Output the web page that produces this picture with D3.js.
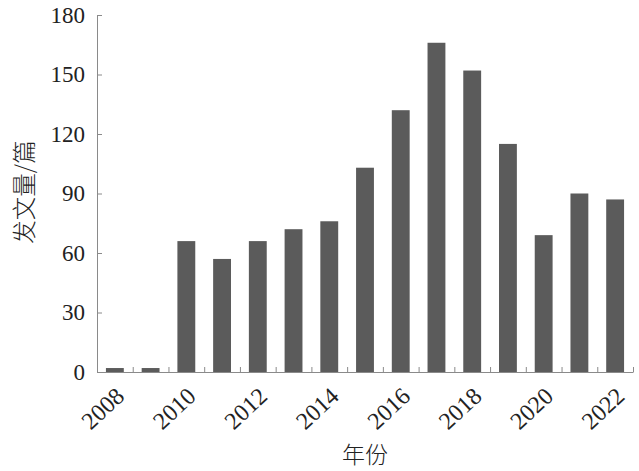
<!DOCTYPE html>
<html>
<head>
<meta charset="utf-8">
<script src="https://cdn.jsdelivr.net/npm/d3@7"></script>
<style>
  body { margin: 0; background: #fff; }
  text { font-family: "Liberation Serif", "Times New Roman", serif; }
  .cjk { font-family: "Noto Sans CJK SC", sans-serif; font-weight: 300; }
</style>
</head>
<body>
<script>
const years = [2008, 2009, 2010, 2011, 2012, 2013, 2014, 2015, 2016, 2017, 2018, 2019, 2020, 2021, 2022];
const counts = [2, 2, 66, 57, 66, 72, 76, 103, 132, 166, 152, 115, 69, 90, 87];
const yTicks = [0, 30, 60, 90, 120, 150, 180];

const width = 639, height = 471;
const padL = 97, padR = 633, padT = 15, padB = 372;

const svg = d3.select("body").append("svg")
    .attr("width", width).attr("height", height);

const x = d3.scaleBand().domain(years).range([padL, padR])
    .paddingInner(0.5).paddingOuter(0.25);
const y = d3.scaleLinear().domain([0, 180]).range([padB, padT]);

// bars
svg.append("g").selectAll("rect")
    .data(years)
    .join("rect")
    .attr("x", d => x(d))
    .attr("width", x.bandwidth())
    .attr("y", (d, i) => y(counts[i]))
    .attr("height", (d, i) => padB - y(counts[i]))
    .attr("fill", "#5b5b5b");

// y axis
const gy = svg.append("g").attr("transform", `translate(${padL},0)`)
    .call(d3.axisLeft(y).tickValues(yTicks).tickSizeInner(-5).tickSizeOuter(0).tickPadding(12));
gy.selectAll("line, path").attr("stroke", "#8a8a8a");
gy.selectAll("text").attr("font-size", 23).attr("fill", "#222")
    .attr("font-family", "Liberation Serif");

// x boundary ticks
const xb = d3.scaleLinear().domain([0, years.length]).range([padL, padR]);
const gxb = svg.append("g").attr("transform", `translate(0,${padB})`)
    .call(d3.axisBottom(xb).tickValues(d3.range(1, years.length + 1))
        .tickSizeInner(-5).tickSizeOuter(0).tickFormat(""));
gxb.selectAll("line, path").attr("stroke", "#8a8a8a");

// x labels (even years only)
const gx = svg.append("g").attr("transform", `translate(0,${padB})`)
    .call(d3.axisBottom(x).tickSize(0).tickFormat(d => d % 2 === 0 ? d : ""));
gx.select(".domain").remove();
gx.selectAll("text")
    .attr("font-size", 24).attr("fill", "#222")
    .attr("font-family", "Liberation Serif")
    .attr("text-anchor", "end")
    .attr("dy", 0)
    .attr("y", 0)
    .attr("transform", "translate(11,26) rotate(-43)");

// axis titles
svg.append("text").attr("class", "cjk")
    .attr("x", 365).attr("y", 463)
    .attr("text-anchor", "middle")
    .attr("font-size", 23).attr("fill", "#222")
    .text("年份");

svg.append("text").attr("class", "cjk")
    .attr("transform", "translate(33,192) rotate(-90)")
    .attr("text-anchor", "middle")
    .attr("font-size", 23.5).attr("fill", "#222")
    .text("发文量/篇");
</script>
</body>
</html>
